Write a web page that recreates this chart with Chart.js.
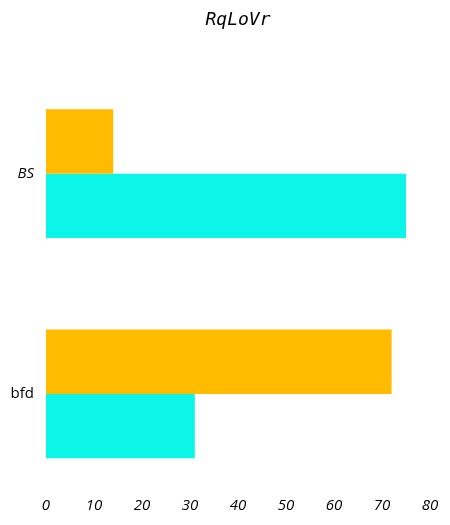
<!DOCTYPE html>
<html>
<head>
<meta charset="utf-8">
<script src="https://cdn.jsdelivr.net/npm/chart.js@4"></script>
<style>
html,body{margin:0;padding:0;background:#fff;}
#wrap{width:450px;height:525px;position:relative;}
</style>
</head>
<body>
<div id="wrap"><canvas id="c"></canvas></div>
<script>
const categories = ["BS", "bfd"];
const seriesA = [14, 72];
const seriesB = [75, 31];
const xTicks = [0, 10, 20, 30, 40, 50, 60, 70, 80];

new Chart(document.getElementById('c'), {
  type: 'bar',
  data: {
    labels: categories,
    datasets: [
      { label: 'A', data: seriesA, backgroundColor: '#FFBB00', categoryPercentage: 0.585, barPercentage: 1.0 },
      { label: 'B', data: seriesB, backgroundColor: '#0BF5E8', categoryPercentage: 0.585, barPercentage: 1.0 }
    ]
  },
  options: {
    indexAxis: 'y',
    responsive: true,
    maintainAspectRatio: false,
    animation: false,
    layout: { padding: { left: 4, right: 20, top: 0, bottom: 0 } },
    plugins: {
      legend: { display: false },
      tooltip: { enabled: false },
      title: {
        display: true,
        fullSize: false,
        text: 'RqLoVr',
        color: '#000',
        font: { family: 'DejaVu Sans Mono', size: 18, style: 'italic', weight: 'normal' },
        padding: { top: 10, bottom: 32 }
      }
    },
    scales: {
      x: {
        min: 0, max: 80,
        afterBuildTicks: (axis) => { axis.ticks = xTicks.map(v => ({ value: v })); },
        afterFit: (axis) => { axis.height = 21; },
        grid: { display: false, drawTicks: false },
        border: { display: false },
        ticks: {
          color: '#000',
          mirror: true,
          padding: -11,
          font: { family: 'Open Sans', size: 15, style: 'italic' }
        }
      },
      y: {
        afterFit: (axis) => { axis.width = 42; },
        grid: { display: false, drawTicks: false },
        border: { display: false },
        ticks: {
          color: '#000',
          padding: 12,
          font: (ctx) => ({ family: 'Open Sans', size: 15, style: ctx.index === 0 ? 'italic' : 'normal' })
        }
      }
    }
  }
});
</script>
</body>
</html>
